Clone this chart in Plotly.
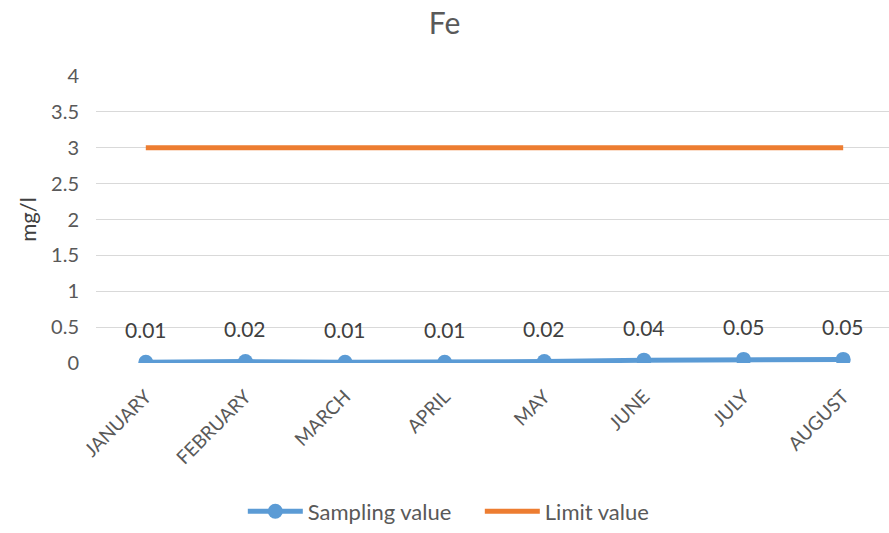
import plotly.graph_objects as go

months = ["JANUARY", "FEBRUARY", "MARCH", "APRIL", "MAY", "JUNE", "JULY", "AUGUST"]
sampling = [0.01, 0.02, 0.01, 0.01, 0.02, 0.04, 0.05, 0.05]
limit = [3, 3, 3, 3, 3, 3, 3, 3]
y_ticks = [0, 0.5, 1, 1.5, 2, 2.5, 3, 3.5, 4]

FONT = "Lato, 'Open Sans', sans-serif"
GREY = "#595959"

fig = go.Figure()
fig.add_trace(go.Scatter(
    x=months, y=sampling, name="Sampling value", mode="lines+markers",
    line=dict(color="#5B9BD5", width=5),
    marker=dict(color="#5B9BD5", size=15),
))
fig.add_trace(go.Scatter(
    x=months, y=limit, name="Limit value", mode="lines",
    line=dict(color="#ED7D31", width=5),
))

for m, v in zip(months, sampling):
    fig.add_annotation(x=m, y=v, text=f"{v:.2f}", showarrow=False,
                       yshift=33, font=dict(family=FONT, size=21, color="#404040"))

fig.update_layout(
    width=889, height=533,
    margin=dict(l=96, r=0, t=76, b=167),
    paper_bgcolor="white", plot_bgcolor="white",
    title=dict(text="Fe", x=0.5, xref="container", xanchor="center", y=0.955, yanchor="middle",
               font=dict(family=FONT, size=30, color=GREY)),
    font=dict(family=FONT, color=GREY),
    showlegend=True,
    legend=dict(orientation="h", x=0.484, xanchor="center", y=-0.517, yanchor="middle",
                font=dict(family=FONT, size=22, color=GREY), itemwidth=55,
                entrywidth=167, traceorder="normal"),
)
fig.update_xaxes(
    type="category", range=[-0.5, 7.46], tickangle=-45, automargin=False,
    tickfont=dict(family=FONT, size=19, color=GREY),
    showgrid=False, showline=False, zeroline=False,
    ticks="outside", ticklen=14, tickcolor="white",
)
fig.update_yaxes(
    range=[0, 4], tickvals=y_ticks, ticktext=[f"{t:g}" for t in y_ticks], automargin=False,
    tickfont=dict(family=FONT, size=20, color=GREY),
    showgrid=True, gridcolor="#D9D9D9", gridwidth=1, zeroline=False,
    ticks="outside", ticklen=12, tickcolor="white",
    title=dict(text="mg/l", font=dict(family=FONT, size=22, color="#404040"), standoff=8),
)

fig.write_html("out.html")
